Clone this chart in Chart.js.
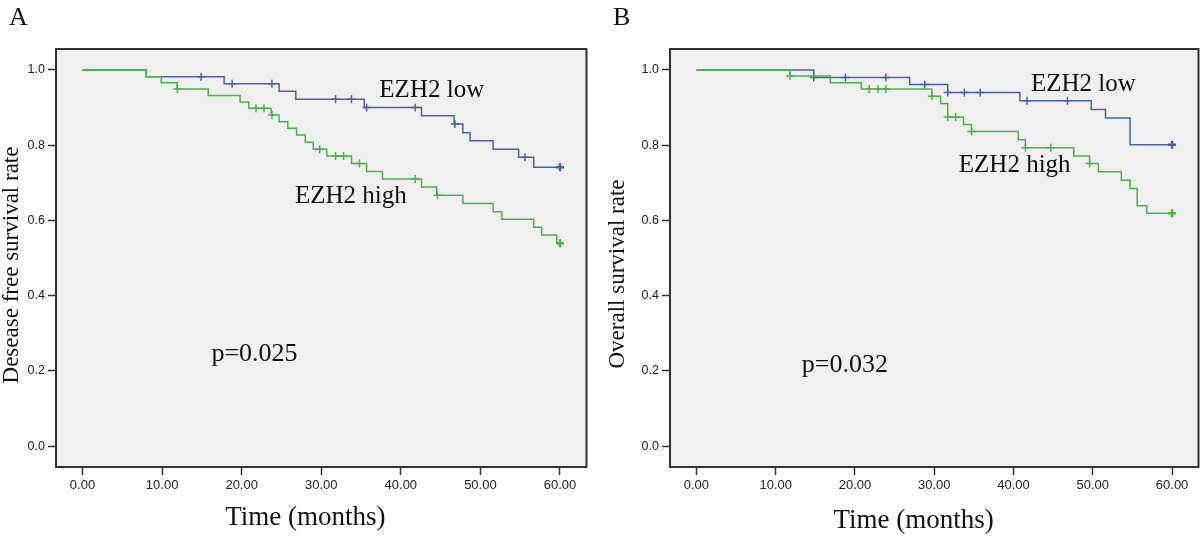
<!DOCTYPE html>
<html>
<head>
<meta charset="utf-8">
<script src="https://cdn.jsdelivr.net/npm/chart.js@4.4.0/dist/chart.umd.min.js"></script>
<style>
  html, body { margin: 0; padding: 0; background: #fff; }
  #wrap { display: flex; width: 1200px; height: 536px; }
  canvas { display: block; }
</style>
</head>
<body>
<div id="wrap">
  <canvas id="chartA" width="600" height="536"></canvas>
  <canvas id="chartB" width="600" height="536"></canvas>
</div>
<script>
// axis ticks
const xTickValues = [0, 10, 20, 30, 40, 50, 60];
const xTickLabels = ["0.00", "10.00", "20.00", "30.00", "40.00", "50.00", "60.00"];
const yTickValues = [0, 0.2, 0.4, 0.6, 0.8, 1.0];
const yTickLabels = ["0.0", "0.2", "0.4", "0.6", "0.8", "1.0"];

const groupNames = ["EZH2 low", "EZH2 high"];
const xTitle = "Time (months)";

// Panel A - disease free survival (step times in months, survival after each step)
const aLowTimes = [0, 8, 17.8, 24.7, 26.8, 35.4, 42.6, 46.7, 47.8, 48.7, 51.6, 54.8, 56.7, 60];
const aLowSurv = [1.0, 0.982, 0.963, 0.943, 0.922, 0.900, 0.878, 0.856, 0.833, 0.812, 0.789, 0.768, 0.741, 0.741];
const aLowCensor = [14.9, 18.8, 23.8, 31.8, 33.8, 35.7, 41.8, 46.8, 55.6, 60];

const aHighTimes = [0, 8, 9.9, 11.9, 15.8, 19.8, 20.9, 23.7, 24.7, 25.8, 26.9, 28, 29, 30.7, 33.8, 35.7, 37.7, 42.6, 44.5, 47.8, 51.6, 52.7, 56.7, 57.7, 59.6, 60];
const aHighSurv = [1.0, 0.982, 0.966, 0.949, 0.932, 0.915, 0.898, 0.880, 0.862, 0.845, 0.827, 0.808, 0.789, 0.771, 0.751, 0.730, 0.710, 0.689, 0.667, 0.645, 0.623, 0.603, 0.582, 0.561, 0.539, 0.539];
const aHighCensor = [11.9, 21.8, 22.8, 23.8, 29.8, 31.8, 32.8, 34.8, 41.8, 44.6, 60];

// Panel B - overall survival
const bLowTimes = [0, 14.8, 26.9, 31.7, 40.8, 49.8, 51.6, 54.7, 60];
const bLowSurv = [1.0, 0.980, 0.961, 0.940, 0.918, 0.895, 0.872, 0.801, 0.801];
const bLowCensor = [14.8, 18.8, 23.9, 28.8, 31.7, 33.8, 35.8, 41.7, 46.8, 60];

const bHighTimes = [0, 11.8, 16.9, 20.8, 29.7, 30.8, 31.7, 33.7, 34.7, 40.6, 41.5, 47.6, 49.6, 50.7, 53.6, 54.7, 55.6, 56.8, 60];
const bHighSurv = [1.0, 0.984, 0.966, 0.949, 0.930, 0.911, 0.875, 0.855, 0.836, 0.814, 0.793, 0.771, 0.751, 0.729, 0.707, 0.685, 0.639, 0.619, 0.619];
const bHighCensor = [11.8, 21.8, 22.9, 23.9, 29.7, 31.7, 32.7, 34.7, 41.5, 44.7, 49.6, 60];

const BLUE = "#4d5fa8";
const GREEN = "#4cb24c";
const SERIF = '"Liberation Serif", "Times New Roman", serif';
const SANS = '"Liberation Sans", Arial, sans-serif';

function toPoints(times, surv) {
    return times.map((t, i) => ({ x: t, y: surv[i] }));
}

// survival value of the step curve at time t (censor marks sit on the curve)
function survivalAt(times, surv, t) {
    let s = surv[0];
    for (let i = 0; i < times.length; i++) {
        if (times[i] <= t) s = surv[i];
    }
    return s;
}

function censorPoints(times, surv, cens) {
    return cens.map(t => ({ x: t, y: survivalAt(times, surv, t) }));
}

function lineSet(label, data, color) {
    return {
        label: label,
        data: data,
        borderColor: color,
        borderWidth: 1.5,
        stepped: true,
        pointRadius: 0,
        pointHoverRadius: 0,
        fill: false,
        tension: 0
    };
}

function censorSet(label, data, color) {
    return {
        label: label,
        data: data,
        showLine: false,
        pointStyle: "cross",
        pointRadius: 4,
        pointHoverRadius: 4,
        pointBorderColor: color,
        pointBackgroundColor: color,
        pointBorderWidth: ctx => (ctx.raw && ctx.raw.x === 60 ? 2.5 : 1.5)
    };
}

// plot box, background and all the free texts
const spssPlugin = {
    id: "spss",
    beforeDraw(chart) {
        const { ctx, chartArea: a } = chart;
        ctx.save();
        ctx.fillStyle = "#f0f0f0";
        ctx.fillRect(a.left, a.top, a.right - a.left, a.bottom - a.top);
        ctx.restore();
    },
    afterDraw(chart, args, opts) {
        const { ctx, chartArea: a, scales } = chart;
        const x = scales.x, y = scales.y;
        ctx.save();
        ctx.strokeStyle = "#333";
        ctx.lineWidth = 2;
        ctx.strokeRect(a.left, a.top, a.right - a.left, a.bottom - a.top);

        ctx.fillStyle = "#111";
        ctx.textBaseline = "alphabetic";
        ctx.textAlign = "left";
        ctx.font = "26px " + SERIF;
        ctx.fillText(opts.letter, opts.letterX, 25);

        opts.notes.forEach(n => {
            ctx.font = n.size + "px " + SERIF;
            ctx.fillText(n.text, x.getPixelForValue(n.x), y.getPixelForValue(n.y));
        });

        ctx.textAlign = "center";
        ctx.font = "27px " + SERIF;
        ctx.fillText(xTitle, x.getPixelForValue(opts.xTitleAt), a.bottom + opts.xTitleDy);

        ctx.translate(opts.yTitleX, opts.yTitleY);
        ctx.rotate(-Math.PI / 2);
        ctx.font = "23px " + SERIF;
        ctx.fillText(opts.yTitle, 0, 0);
        ctx.restore();
    }
};

function makeChart(id, p) {
    return new Chart(document.getElementById(id), {
        type: "line",
        data: {
            datasets: [
                lineSet(groupNames[1], toPoints(p.highT, p.highS), GREEN),
                censorSet(groupNames[1] + " censored", censorPoints(p.highT, p.highS, p.highC), GREEN),
                lineSet(groupNames[0], toPoints(p.lowT, p.lowS), BLUE),
                censorSet(groupNames[0] + " censored", censorPoints(p.lowT, p.lowS, p.lowC), BLUE)
            ]
        },
        options: {
            responsive: false,
            animation: false,
            events: [],
            layout: { autoPadding: false, padding: { left: 0, top: 49, right: p.padRight, bottom: 0 } },
            scales: {
                x: {
                    type: "linear",
                    min: -10 / 3,
                    max: 190 / 3,
                    afterBuildTicks: axis => { axis.ticks = xTickValues.map(v => ({ value: v })); },
                    afterFit: axis => {
                        axis.height = 69;
                        axis.paddingLeft = 0;
                        axis.paddingRight = 0;
                    },
                    ticks: {
                        callback: (v, i) => xTickLabels[i],
                        autoSkip: false,
                        maxRotation: 0,
                        padding: 3,
                        color: "#222",
                        font: { family: SANS, size: 13 }
                    },
                    grid: { drawOnChartArea: false, tickLength: 8, tickColor: "#333", tickWidth: 1.5 },
                    border: { display: false }
                },
                y: {
                    type: "linear",
                    min: -1 / 18,
                    max: 19 / 18,
                    afterBuildTicks: axis => { axis.ticks = yTickValues.map(v => ({ value: v })); },
                    afterFit: axis => {
                        axis.width = p.yWidth;
                        axis.paddingTop = 0;
                        axis.paddingBottom = 0;
                    },
                    ticks: {
                        callback: (v, i) => yTickLabels[i],
                        autoSkip: false,
                        padding: 3,
                        color: "#222",
                        font: { family: SANS, size: 12.5 }
                    },
                    grid: { drawOnChartArea: false, tickLength: 8, tickColor: "#333", tickWidth: 1.5 },
                    border: { display: false }
                }
            },
            plugins: {
                legend: { display: false },
                tooltip: { enabled: false },
                spss: p.texts
            }
        },
        plugins: [spssPlugin]
    });
}

makeChart("chartA", {
    lowT: aLowTimes, lowS: aLowSurv, lowC: aLowCensor,
    highT: aHighTimes, highS: aHighSurv, highC: aHighCensor,
    yWidth: 56, padRight: 13.5,
    texts: {
        letter: "A", letterX: 9,
        yTitle: "Desease free survival rate", yTitleX: 18, yTitleY: 265,
        xTitleAt: 28, xTitleDy: 58,
        notes: [
            { text: groupNames[0], x: 37.3, y: 0.928, size: 25 },
            { text: groupNames[1], x: 26.7, y: 0.646, size: 25 },
            { text: "p=0.025", x: 16.2, y: 0.225, size: 26 }
        ]
    }
});

makeChart("chartB", {
    lowT: bLowTimes, lowS: bLowSurv, lowC: bLowCensor,
    highT: bHighTimes, highS: bHighSurv, highC: bHighCensor,
    yWidth: 70, padRight: 1.5,
    texts: {
        letter: "B", letterX: 13,
        yTitle: "Overall survival rate", yTitleX: 24, yTitleY: 274,
        xTitleAt: 27.4, xTitleDy: 61,
        notes: [
            { text: groupNames[0], x: 42.2, y: 0.943, size: 25 },
            { text: groupNames[1], x: 33.1, y: 0.729, size: 25 },
            { text: "p=0.032", x: 13.3, y: 0.198, size: 26 }
        ]
    }
});
</script>
</body>
</html>
